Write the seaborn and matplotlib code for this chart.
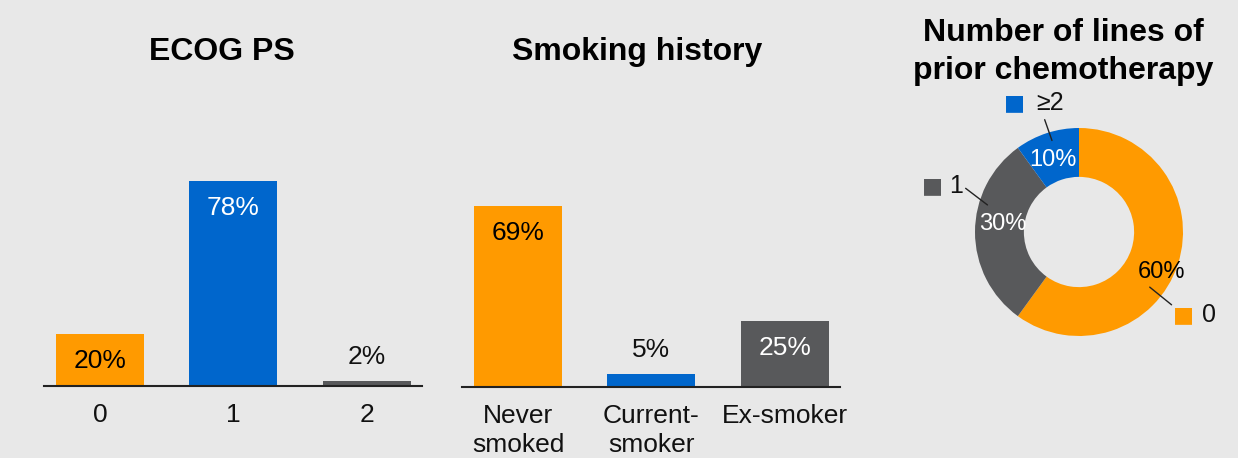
import matplotlib
matplotlib.use("Agg")
import matplotlib.pyplot as plt
import seaborn as sns
import pandas as pd

# ---- data ----
ecog_cats = ["0", "1", "2"]
ecog_vals = [20, 78, 2]
smoke_cats = ["Never\nsmoked", "Current-\nsmoker", "Ex-smoker"]
smoke_vals = [69, 5, 25]
chemo_cats = ["0", "1", "\u22652"]
chemo_vals = [60, 30, 10]

ORANGE = "#FF9A00"
BLUE = "#0066CC"
GRAY = "#58595B"
BG = "#E8E8E8"
colors = [ORANGE, BLUE, GRAY]
chemo_colors = [ORANGE, GRAY, BLUE]
label_colors = {ORANGE: "black", BLUE: "white", GRAY: "white"}

sns.set_theme(style="white")
plt.rcParams["font.family"] = ["Liberation Sans", "DejaVu Sans"]

W, H = 1238, 458
fig = plt.figure(figsize=(W / 100, H / 100), dpi=100, facecolor=BG)

def px_axes(left, top, right, bottom):
    return fig.add_axes([left / W, 1 - bottom / H, (right - left) / W, (bottom - top) / H])

def bar_panel(ax, cats, vals, title, title_x):
    df = pd.DataFrame({"cat": cats, "val": vals})
    sns.barplot(data=df, x="cat", y="val", hue="cat", palette=colors, legend=False,
                width=0.66, saturation=1, linewidth=0, ax=ax)
    ax.set_facecolor(BG)
    ax.set_ylim(0, 80)
    ax.set_xlim(-0.42, 2.415)
    for s in ["top", "right", "left"]:
        ax.spines[s].set_visible(False)
    ax.spines["bottom"].set_color("#222222")
    ax.spines["bottom"].set_linewidth(1.5)
    ax.set_xlabel("")
    ax.set_ylabel("")
    ax.set_yticks([])
    ax.tick_params(axis="x", length=0, pad=12, labelsize=19, labelcolor="#111111")
    for lbl in ax.get_xticklabels():
        lbl.set_linespacing(1.3)
    for i, v in enumerate(vals):
        c = colors[i]
        if v >= 15:
            ax.text(i, v - 10.3, f"{v}%", ha="center", va="center", fontsize=19,
                    color=label_colors[c])
        else:
            ax.text(i, v + 9, f"{v}%", ha="center", va="center", fontsize=19, color="#111111")
    fig.text(title_x / W, 1 - 52 / H, title, ha="center", va="center",
             fontsize=23, fontweight="bold", color="black")

ax1 = px_axes(44, 176, 422, 386)
bar_panel(ax1, ecog_cats, ecog_vals, "ECOG PS", 222)
ax2 = px_axes(462, 177, 840, 387)
bar_panel(ax2, smoke_cats, smoke_vals, "Smoking history", 637)

# ---- donut ----
cx, cy, R = 1079, 232, 104
half = 1.5 * R
ax3 = px_axes(cx - half, cy - half, cx + half, cy + half)
ax3.set_facecolor(BG)
ax3.pie(chemo_vals, colors=chemo_colors, startangle=90, counterclock=False,
        radius=1, wedgeprops=dict(width=0.47, edgecolor="none"))
ax3.set_xlim(-1.5, 1.5)
ax3.set_ylim(-1.5, 1.5)
ax3.set_aspect("equal")
ax3.axis("off")

pct_pos = [(0.79, -0.38), (-0.73, 0.08), (-0.25, 0.69)]
pct_col = ["black", "white", "white"]
sq_pos = [(1.0, -0.80), (-1.41, 0.44), (-0.62, 1.24)]
txt_pos = [(1.25, -0.80), (-1.18, 0.44), (-0.28, 1.24)]
leaders = [((0.68, -0.53), (0.89, -0.70)), ((-1.09, 0.42), (-0.88, 0.26)),
           ((-0.33, 1.08), (-0.26, 0.88))]
for i, v in enumerate(chemo_vals):
    ax3.text(*pct_pos[i], f"{v}%", ha="center", va="center", fontsize=17, color=pct_col[i])
    ax3.text(*sq_pos[i], "\u25A0", ha="center", va="center", fontsize=16,
             color=chemo_colors[i], family="DejaVu Sans", clip_on=False)
    ax3.text(*txt_pos[i], chemo_cats[i], ha="center", va="center", fontsize=18,
             color="#111111", clip_on=False)
    (x0, y0), (x1, y1) = leaders[i]
    ax3.plot([x0, x1], [y0, y1], color="#222222", lw=1, clip_on=False)

fig.text(1063 / W, 1 - 52 / H, "Number of lines of\nprior chemotherapy", ha="center",
         va="center", fontsize=23, fontweight="bold", color="black", linespacing=1.35)

fig.savefig("out.png", dpi=100, facecolor=BG)
